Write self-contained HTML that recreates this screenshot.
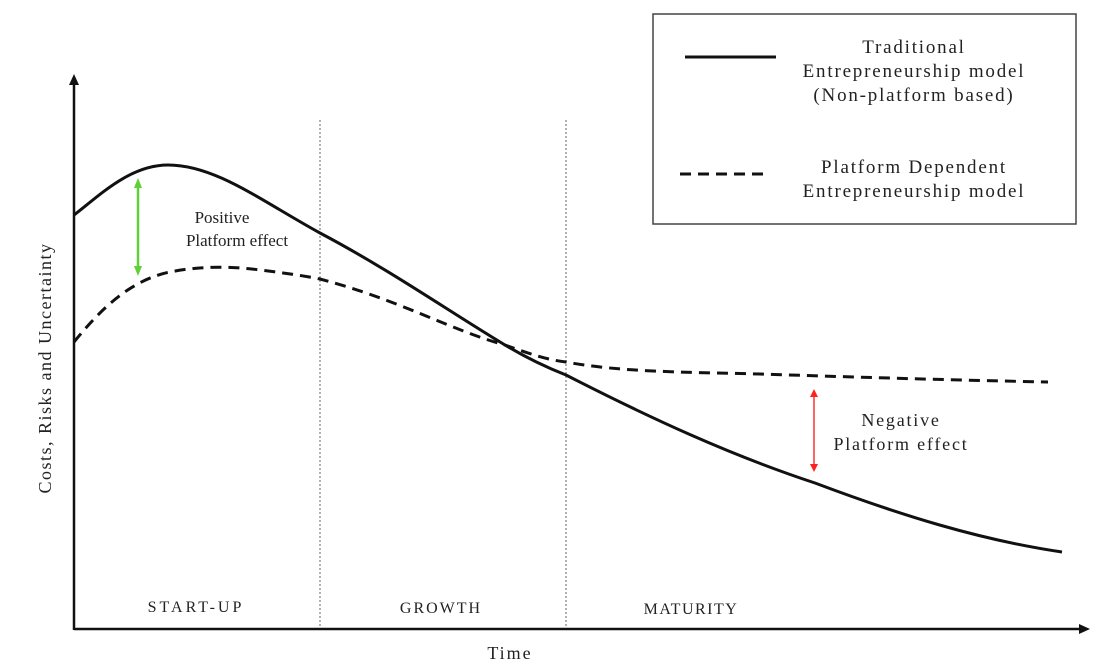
<!DOCTYPE html>
<html><head><meta charset="utf-8"><style>
html,body{margin:0;padding:0;background:#fff;}
svg{display:block;}
text{font-family:"Liberation Serif",serif;fill:#222;}
</style></head><body>
<svg width="1109" height="669" viewBox="0 0 1109 669" xmlns="http://www.w3.org/2000/svg">
<line x1="320" y1="120" x2="320" y2="627" stroke="#999" stroke-width="1.5" stroke-dasharray="2,2"/>
<line x1="566" y1="120" x2="566" y2="627" stroke="#999" stroke-width="1.5" stroke-dasharray="2,2"/>
<line x1="74" y1="629" x2="1082" y2="629" stroke="#111" stroke-width="2.5"/>
<polygon points="1090,629 1079,624 1079,634" fill="#111"/>
<line x1="74" y1="82" x2="74" y2="630" stroke="#111" stroke-width="2.5"/>
<polygon points="74,74 69,85 79,85" fill="#111"/>
<path d="M74,215 C100,195 130,165 168,165 C215,165 260,200 320,233 C390,270 450,312 505,345 C530,360 548,368 566,375 C650,418 730,455 815,483 C900,515 980,540 1062,552" fill="none" stroke="#111" stroke-width="3"/>
<path d="M74,342 C100,310 130,280 170,272 C200,266 230,266 260,270 C285,273 305,276 320,279 C400,300 450,330 505,345 C530,354 548,360 566,362 C620,372 680,372 760,374 C850,377 950,380 1048,382" fill="none" stroke="#111" stroke-width="3" stroke-dasharray="11,7"/>
<line x1="138" y1="186" x2="138" y2="268" stroke="#5fcf3a" stroke-width="2.5"/>
<polygon points="138,178 134,188 142,188" fill="#5fcf3a"/>
<polygon points="138,276 134,266 142,266" fill="#5fcf3a"/>
<line x1="814" y1="395" x2="814" y2="466" stroke="#ff3030" stroke-width="1.5"/>
<polygon points="814,389 810,397 818,397" fill="#ff2020"/>
<polygon points="814,472 810,464 818,464" fill="#ff2020"/>
<text x="222" y="223" font-size="17" text-anchor="middle">Positive</text>
<text x="237" y="246" font-size="17" text-anchor="middle">Platform effect</text>
<text x="901" y="426" font-size="18" letter-spacing="1.8" text-anchor="middle">Negative</text>
<text x="901" y="450" font-size="18" letter-spacing="1.8" text-anchor="middle">Platform effect</text>
<text x="196" y="612" font-size="16" letter-spacing="3" text-anchor="middle">START-UP</text>
<text x="441" y="613" font-size="16" letter-spacing="2" text-anchor="middle">GROWTH</text>
<text x="691" y="614" font-size="16" letter-spacing="1.5" text-anchor="middle">MATURITY</text>
<text x="510" y="659" font-size="18" letter-spacing="2" text-anchor="middle">Time</text>
<text transform="translate(51,368) rotate(-90)" font-size="18" letter-spacing="1.5" text-anchor="middle">Costs, Risks and Uncertainty</text>
<rect x="653" y="14" width="423" height="210" fill="#fff" stroke="#444" stroke-width="1.5"/>
<line x1="685" y1="57" x2="776" y2="57" stroke="#111" stroke-width="3"/>
<line x1="680" y1="174" x2="770" y2="174" stroke="#111" stroke-width="3" stroke-dasharray="11,7"/>
<g font-size="19" letter-spacing="1.8" text-anchor="middle">
<text x="914" y="53">Traditional</text>
<text x="914" y="77">Entrepreneurship model</text>
<text x="914" y="101">(Non-platform based)</text>
<text x="914" y="173">Platform Dependent</text>
<text x="914" y="197">Entrepreneurship model</text>
</g>
</svg>
</body></html>
